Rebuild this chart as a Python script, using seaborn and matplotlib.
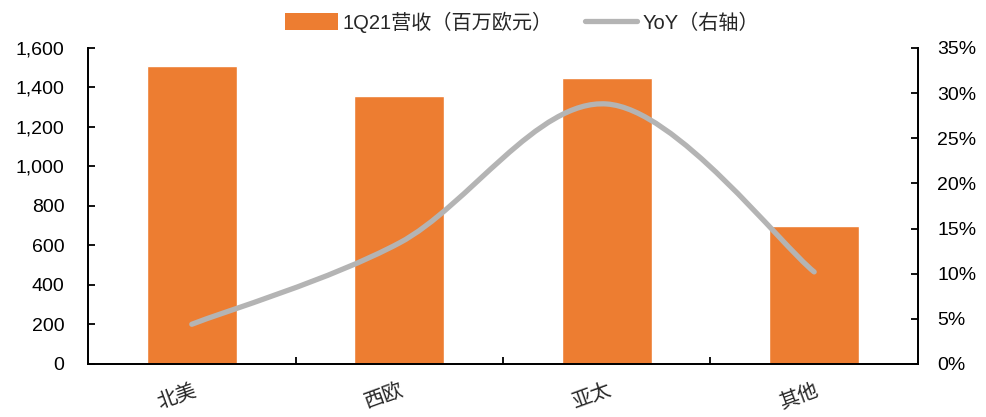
import numpy as np
import pandas as pd
import matplotlib
matplotlib.use("Agg")
import matplotlib.pyplot as plt
from matplotlib.path import Path
from matplotlib.patches import PathPatch
from matplotlib.lines import Line2D
from matplotlib.ticker import FuncFormatter, MultipleLocator
import seaborn as sns

# Revenue by region, 1Q21
regions = ["北美", "西欧", "亚太", "其他"]
revenue = [1508, 1357, 1448, 698]          # 百万欧元
yoy = [4.4, 13.4, 28.8, 10.2]               # %

revenue_label = "1Q21营收（百万欧元）"
yoy_label = "YoY（右轴）"

BAR_COLOR = "#ED7D31"
LINE_COLOR = "#B4B4B4"

sns.set_theme(style="white")
plt.rcParams["font.family"] = ["Liberation Sans", "Noto Sans CJK SC", "DejaVu Sans"]
plt.rcParams["axes.unicode_minus"] = False

df = pd.DataFrame({"region": regions, "revenue": revenue, "yoy": yoy})

fig = plt.figure(figsize=(9.87, 4.17), dpi=100)
ax = fig.add_axes([0.0892, 0.1271, 0.8408, 0.7578])

sns.barplot(data=df, x="region", y="revenue", color=BAR_COLOR, width=0.434,
            saturation=1, ax=ax, zorder=2)
ax.set_xlim(-0.5, len(regions) - 0.5)
ax.set_ylim(0, 1600)
ax.yaxis.set_major_locator(MultipleLocator(200))
ax.yaxis.set_major_formatter(FuncFormatter(lambda v, p: f"{v:,.0f}"))
ax.set_xlabel("")
ax.set_ylabel("")

# secondary axis for YoY
ax2 = ax.twinx()
ax2.set_ylim(0, 35)
ax2.yaxis.set_major_locator(MultipleLocator(5))
ax2.yaxis.set_major_formatter(FuncFormatter(lambda v, p: f"{v:.0f}%"))

# smoothed YoY curve (Catmull-Rom through the data points as cubic Beziers)
xs = np.arange(len(yoy), dtype=float)
pts = np.column_stack([xs, np.asarray(yoy, dtype=float)])
verts = [tuple(pts[0])]
codes = [Path.MOVETO]
n = len(pts)
for i in range(n - 1):
    p_prev = pts[max(i - 1, 0)]
    p0 = pts[i]
    p1 = pts[i + 1]
    p_next = pts[min(i + 2, n - 1)]
    c1 = p0 + (p1 - p_prev) / 6.0
    c2 = p1 - (p_next - p0) / 6.0
    verts += [tuple(c1), tuple(c2), tuple(p1)]
    codes += [Path.CURVE4] * 3
curve = PathPatch(Path(verts, codes), facecolor="none", edgecolor=LINE_COLOR,
                  linewidth=3.8, capstyle="round", joinstyle="round", zorder=3)
ax2.add_patch(curve)

# spines and ticks
for a in (ax, ax2):
    a.spines["top"].set_visible(False)
    for s in ("left", "right", "bottom"):
        a.spines[s].set_color("black")
        a.spines[s].set_linewidth(1.3)
    a.grid(False)

ax.tick_params(axis="y", direction="in", length=5, width=1.3, color="black",
               pad=17, labelsize=14, labelcolor="black", left=True)
ax2.tick_params(axis="y", direction="in", length=5, width=1.3, color="black",
                pad=14, labelsize=14, labelcolor="black", right=True)

ax.set_xticks(xs)
ax.set_xticks(xs[:-1] + 0.5, minor=True)
ax.tick_params(axis="x", which="major", length=0, pad=11)
ax.tick_params(axis="x", which="minor", direction="in", length=5, width=1.3,
               color="black", bottom=True)
ax.set_xticklabels(regions, rotation=20, ha="right", va="top",
                   rotation_mode="anchor", fontsize=14.5,
                   family=["Noto Sans CJK SC", "DejaVu Sans"])

# legend
handles = [
    plt.Rectangle((0, 0), 1, 1, facecolor=BAR_COLOR, edgecolor="none"),
    Line2D([0], [0], color=LINE_COLOR, linewidth=3.8, solid_capstyle="round"),
]
fig.legend(handles, [revenue_label, yoy_label], loc="center",
           bbox_to_anchor=(0.529, 0.947), ncol=2, frameon=False,
           fontsize=14.5, handlelength=2.6, handleheight=0.9,
           handletextpad=0.25, columnspacing=1.6)

fig.savefig("out.png", dpi=100)
